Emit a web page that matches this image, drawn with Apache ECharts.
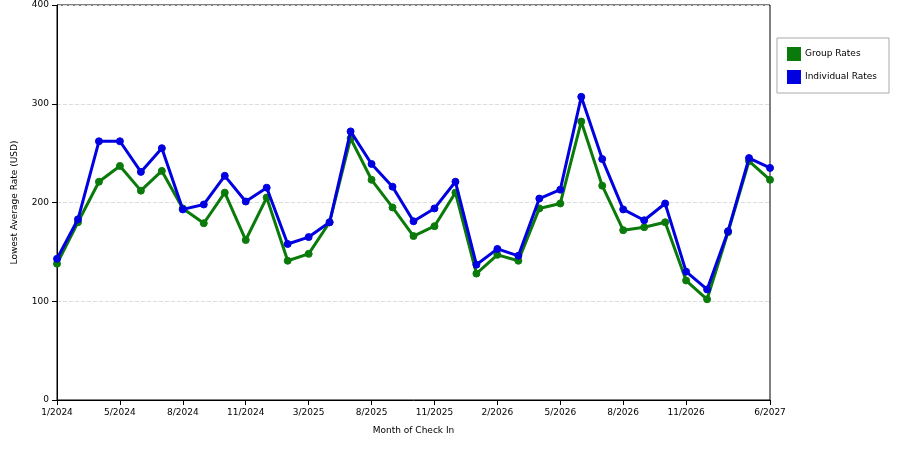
<!DOCTYPE html>
<html><head><meta charset="utf-8">
<script src="https://cdn.jsdelivr.net/npm/echarts@6/dist/echarts.min.js"></script>
<style>html,body{margin:0;padding:0;background:#fff}#c{width:900px;height:450px}</style>
</head><body><div id="c"></div>
<script>
const categories=['1/2024','2/2024','3/2024','5/2024','6/2024','7/2024','8/2024','9/2024','10/2024','11/2024','12/2024','1/2025','3/2025','5/2025','7/2025','8/2025','9/2025','10/2025','11/2025','12/2025','1/2026','2/2026','3/2026','4/2026','5/2026','6/2026','7/2026','8/2026','9/2026','10/2026','11/2026','12/2026','2/2027','5/2027','6/2027'];
const groupRates=[138,180,221,237,212,232,194,179,210,162,205,141,148,180,265,223,195,166,176,210,128,147,141,194,199,282,217,172,175,180,121,102,170,242,223];
const individualRates=[143,183,262,262,231,255,193,198,227,201,215,158,165,180,272,239,216,181,194,221,137,153,146,204,213,307,244,193,182,199,130,112,171,245,235];
const yTicks={min:0,max:400,interval:100};
const last=categories.length-1;
const show=(i)=>(i%3===0&&i<last-1)||i===last;
const ch=echarts.init(document.getElementById('c'));
const ser=(name,data,color)=>({name,type:'line',data,symbol:'circle',symbolSize:7,
  lineStyle:{color,width:3},itemStyle:{color,borderColor:color,borderWidth:1},z:name==='Group Rates'?2:3});
ch.setOption({
  animation:false,textStyle:{fontFamily:'DejaVu Sans',fontSize:9,color:'#000'},
  grid:{left:57,right:130,top:5,bottom:50,show:true,borderColor:'#000',borderWidth:1},
  legend:{orient:'vertical',right:11,top:38,itemWidth:12,itemHeight:12,itemGap:9,padding:[9,12,9,10],
    borderColor:'#aaa',borderWidth:1,textStyle:{fontSize:9,color:'#000'},
    data:[{name:'Group Rates',icon:'rect'},{name:'Individual Rates',icon:'rect'}]},
  xAxis:{type:'category',data:categories,boundaryGap:false,name:'Month of Check In',nameLocation:'middle',nameGap:26,
    nameTextStyle:{fontSize:9},axisLine:{lineStyle:{color:'#000'}},
    axisTick:{interval:(i)=>show(i),lineStyle:{color:'#000'}},
    axisLabel:{interval:(i)=>show(i),hideOverlap:false,fontSize:9,color:'#000'}},
  yAxis:{type:'value',min:yTicks.min,max:yTicks.max,interval:yTicks.interval,name:'Lowest Average Rate (USD)',
    nameLocation:'middle',nameGap:38,nameTextStyle:{fontSize:9},
    axisLine:{show:true,lineStyle:{color:'#000'}},axisTick:{show:true,lineStyle:{color:'#000'}},
    axisLabel:{fontSize:9,color:'#000'},splitLine:{lineStyle:{color:'#ddd',type:'dashed'}}},
  series:[ser('Group Rates',groupRates,'#0a7a0a'),ser('Individual Rates',individualRates,'#0000e0')]
});
</script></body></html>
